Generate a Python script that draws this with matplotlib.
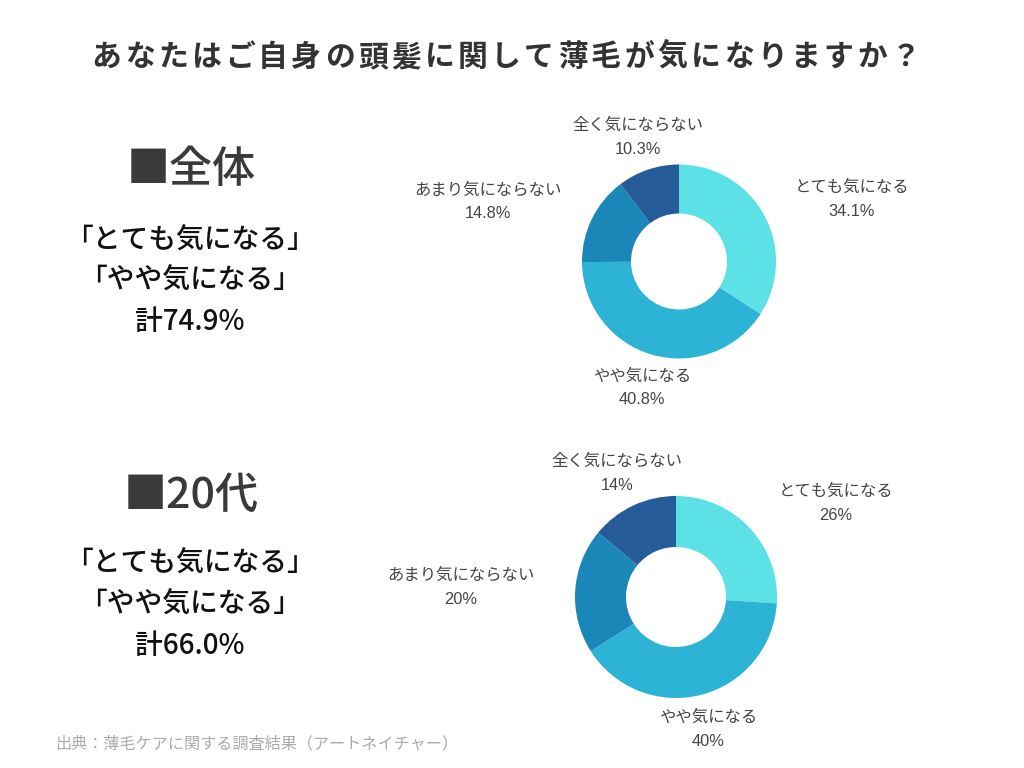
import matplotlib
matplotlib.use("Agg")
import matplotlib.pyplot as plt

plt.rcParams['font.family'] = ['Noto Sans CJK JP', 'DejaVu Sans']

title = "あなたはご自身の頭髪に関して薄毛が気になりますか？"
categories = ["とても気になる", "やや気になる", "あまり気にならない", "全く気にならない"]
values_all = [34.1, 40.8, 14.8, 10.3]
labels_all = ["34.1%", "40.8%", "14.8%", "10.3%"]
values_20s = [26, 40, 20, 14]
labels_20s = ["26%", "40%", "20%", "14%"]
colors = ["#5ce1e6", "#2cb3d5", "#1b87b8", "#265b9a"]
source = "出典：薄毛ケアに関する調査結果（アートネイチャー）"
left_all = ["■全体", "「とても気になる」", "「やや気になる」", "計74.9%"]
left_20s = ["■20代", "「とても気になる」", "「やや気になる」", "計66.0%"]

W, H = 1024, 768
fig = plt.figure(figsize=(W / 100, H / 100), dpi=100)
fig.patch.set_facecolor("white")

LABEL_FONT = ['Liberation Sans', 'Noto Sans CJK JP']


def fx(x):
    return x / W


def fy(y):
    return 1 - y / H


def donut(cx, cy, r, rin, values, pct_labels, label_pos):
    ax = fig.add_axes([fx(cx - r), fy(cy + r), 2 * r / W, 2 * r / H])
    ax.pie(values, colors=colors, startangle=90, counterclock=False,
           radius=1, wedgeprops=dict(width=1 - rin / r, linewidth=0))
    ax.set_xlim(-1, 1)
    ax.set_ylim(-1, 1)
    ax.set_aspect("equal")
    ax.axis("off")
    for cat, pct, (lx, ly) in zip(categories, pct_labels, label_pos):
        fig.text(fx(lx), fy(ly), cat, ha="center", va="center",
                 fontsize=11.8, color="#444444", family=LABEL_FONT)
        fig.text(fx(lx), fy(ly + 24), pct, ha="center", va="center",
                 fontsize=11.8, color="#444444", family=LABEL_FONT)


donut(679, 261.5, 97, 48, values_all, labels_all,
      [(852, 187), (642, 376), (488, 190), (638, 125)])
donut(676, 597, 101, 50, values_20s, labels_20s,
      [(836, 491), (708, 717), (461, 575), (617, 461)])

# title with letter spacing
t_left, t_right = 90, 922
step = (t_right - t_left) / len(title)
for i, ch in enumerate(title):
    fig.text(fx(t_left + (i + 0.5) * step), fy(57), ch, ha="center",
             va="center", fontsize=21.5, fontweight="bold", color="#333333")


def left_block(lines, ys):
    fig.text(fx(191), fy(ys[0]), lines[0], ha="center", va="center",
             fontsize=31, color="#3a3a3a", fontweight="medium")
    for line, y in zip(lines[1:], ys[1:]):
        fig.text(fx(190), fy(y), line, ha="center", va="center",
                 fontsize=20, color="#111111", fontweight="medium")


left_block(left_all, [170, 240, 280, 322])
left_block(left_20s, [495, 563, 604, 645])

fig.text(fx(55), fy(744), source, ha="left", va="center", fontsize=11.6,
         color="#aaaaaa")

fig.savefig("out.png", dpi=100, facecolor="white")
